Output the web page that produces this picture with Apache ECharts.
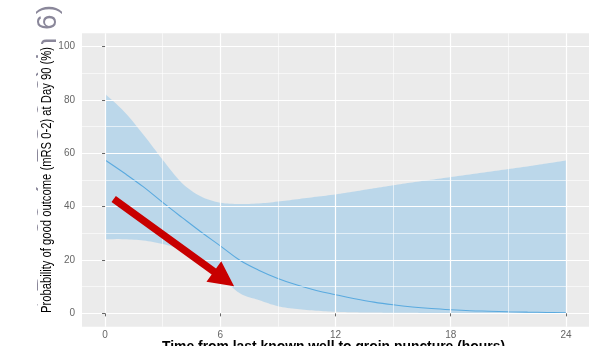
<!DOCTYPE html>
<html>
<head>
<meta charset="utf-8">
<script src="https://cdn.jsdelivr.net/npm/echarts@6/dist/echarts.min.js"></script>
<style>
  html, body { margin: 0; padding: 0; background: #ffffff; }
  #chart { width: 589px; height: 346px; }
</style>
</head>
<body>
<div id="chart"></div>
<script>
// Hours from last known well to groin puncture
const hours = [0, 1, 2, 3, 4, 5, 6, 7, 8, 9, 10, 11, 12, 13, 14, 15, 16, 17, 18, 19, 20, 21, 22, 23, 24];
// Fitted probability of mRS 0-2 at day 90 (%)
const fitted = [57.5, 52.6, 47.4, 41.6, 36.0, 30.5, 25.3, 20.0, 16.2, 13.1, 10.6, 8.6, 7.0, 5.5, 4.2, 3.2, 2.4, 1.8, 1.35, 1.0, 0.8, 0.6, 0.45, 0.35, 0.25];
// 95% confidence band
const ciLower = [27.8, 27.8, 27.3, 26.0, 23.8, 19.6, 13.8, 7.6, 5.0, 2.7, 1.6, 1.0, 0.6, 0.4, 0.3, 0.25, 0.2, 0.15, 0.1, 0.1, 0.1, 0.1, 0.05, 0.05, 0.05];
const ciUpper = [82.3, 75.6, 67.0, 57.6, 48.9, 43.8, 41.5, 41.0, 41.2, 41.9, 42.8, 43.7, 44.6, 45.7, 46.9, 48.0, 49.1, 50.1, 51.1, 52.1, 53.1, 54.1, 55.1, 56.2, 57.3];

const xTicks = [0, 6, 12, 18, 24];
const xMinorTicks = [3, 9, 15, 21];
const yTicks = [0, 20, 40, 60, 80, 100];
const yMinorTicks = [10, 30, 50, 70, 90];

// Annotation arrow (hours, %)
const arrowFrom = [0.45, 42.9];
const arrowTo = [6.72, 10.2];

const yTitle = 'Probability of good outcome (mRS 0-2) at Day 90 (%)';
const xTitle = 'Time from last known well to groin puncture (hours)';
const oldTitle = 'Probability of good outcome at Day 90 (mRS 0-2) in 6)';

const FONT = '"Liberation Sans", Arial, Helvetica, sans-serif';

const chart = echarts.init(document.getElementById('chart'), null, { renderer: 'canvas' });

const pairs = ys => hours.map((h, i) => [h, ys[i]]);
const gridLines = (vals, dim, width) => vals.map(v => ({ [dim]: v, lineStyle: { width } }));

// Catmull-Rom curve through pixel points, flattened into a point list
function curvePoints(pts, steps) {
  const out = [pts[0]];
  const n = pts.length;
  for (let i = 0; i < n - 1; i++) {
    const p0 = pts[Math.max(i - 1, 0)], p1 = pts[i], p2 = pts[i + 1], p3 = pts[Math.min(i + 2, n - 1)];
    const c1 = [p1[0] + (p2[0] - p0[0]) / 6, p1[1] + (p2[1] - p0[1]) / 6];
    const c2 = [p2[0] - (p3[0] - p1[0]) / 6, p2[1] - (p3[1] - p1[1]) / 6];
    for (let s = 1; s <= steps; s++) {
      const t = s / steps, u = 1 - t;
      const a = u * u * u, b = 3 * u * u * t, c = 3 * u * t * t, d = t * t * t;
      out.push([a * p1[0] + b * c1[0] + c * c2[0] + d * p2[0],
                a * p1[1] + b * c1[1] + c * c2[1] + d * p2[1]]);
    }
  }
  return out;
}

function renderBand(params, api) {
  const up = hours.map((h, i) => api.coord([h, ciUpper[i]]));
  const lo = hours.map((h, i) => api.coord([h, ciLower[i]])).reverse();
  const points = curvePoints(up, 8).concat(curvePoints(lo, 8));
  return {
    type: 'polygon',
    shape: { points },
    style: { fill: 'rgba(150, 200, 233, 0.56)', stroke: null }
  };
}

chart.setOption({
  animation: false,
  grid: {
    left: 82, right: 0, top: 33.3, bottom: 19.3,
    show: true, backgroundColor: '#EBEBEB', borderWidth: 0
  },
  xAxis: {
    type: 'value', min: -1.2, max: 25.2, z: 5,
    axisLine: { show: false },
    axisTick: { show: true, customValues: xTicks, length: 3, lineStyle: { color: '#666', width: 1 } },
    axisLabel: { customValues: xTicks, color: '#666', fontSize: 10, fontFamily: FONT, margin: 4 },
    splitLine: { show: false }
  },
  yAxis: {
    type: 'value', min: -5, max: 105, z: 5,
    axisLine: { show: false },
    axisTick: { show: true, customValues: yTicks, length: 3, lineStyle: { color: '#666', width: 1 } },
    axisLabel: { customValues: yTicks, color: '#666', fontSize: 10, fontFamily: FONT, margin: 7 },
    splitLine: { show: false }
  },
  series: [
    {
      // panel grid lines
      type: 'line', data: [], z: 1, silent: true,
      markLine: {
        silent: true, symbol: 'none', label: { show: false }, animation: false,
        lineStyle: { color: '#FFFFFF', type: 'solid' },
        emphasis: { disabled: true },
        data: [
          ...gridLines(xMinorTicks, 'xAxis', 0.6),
          ...gridLines(yMinorTicks, 'yAxis', 0.6),
          ...gridLines(xTicks, 'xAxis', 1.2),
          ...gridLines(yTicks, 'yAxis', 1.2)
        ]
      }
    },
    {
      name: 'ci', type: 'custom', z: 3, silent: true,
      renderItem: renderBand,
      data: [[0, 0]]
    },
    {
      name: 'fit', type: 'line', z: 4,
      data: pairs(fitted), symbol: 'none', smooth: 0.4,
      lineStyle: { color: '#5AAADF', width: 1.1 }, silent: true
    }
  ]
});

// text width helper for fitting titles to their span
const ctx = document.createElement('canvas').getContext('2d');
const textWidth = (txt, font) => { ctx.font = font; return ctx.measureText(txt).width; };

const yFont = '14px ' + FONT;
const xFont = 'bold 15px ' + FONT;
const yScale = 266 / textWidth(yTitle, yFont);
const xScale = 343 / textWidth(xTitle, xFont);

// arrow polygon in pixel space from data coordinates
const p0 = chart.convertToPixel({ gridIndex: 0 }, arrowFrom);
const p1 = chart.convertToPixel({ gridIndex: 0 }, arrowTo);
const dx = p1[0] - p0[0], dy = p1[1] - p0[1];
const len = Math.hypot(dx, dy);
const ux = dx / len, uy = dy / len;
const nx = -uy, ny = ux;
const shaftHalf = 3.7, headLen = 25, headHalf = 12.6;
const bx = p1[0] - ux * headLen, by = p1[1] - uy * headLen;
const arrowPts = [
  [p0[0] + nx * shaftHalf, p0[1] + ny * shaftHalf],
  [bx + nx * shaftHalf, by + ny * shaftHalf],
  [bx + nx * headHalf, by + ny * headHalf],
  [p1[0], p1[1]],
  [bx - nx * headHalf, by - ny * headHalf],
  [bx - nx * shaftHalf, by - ny * shaftHalf],
  [p0[0] - nx * shaftHalf, p0[1] - ny * shaftHalf]
];

chart.setOption({
  graphic: {
    elements: [
      {
        type: 'text', z: 1, silent: true,
        x: 48.5, y: 5, rotation: Math.PI / 2,
        style: { text: oldTitle, x: 0, y: 0, font: '28px ' + FONT, fill: '#8a879a', align: 'right', verticalAlign: 'middle' }
      },
      {
        type: 'rect', z: 2, silent: true,
        shape: { x: 38, y: 44, width: 43.5, height: 302 },
        style: { fill: '#FFFFFF' }
      },
      {
        type: 'text', z: 3, silent: true,
        x: 46.7, y: 180, rotation: Math.PI / 2, scaleX: yScale, scaleY: 1,
        style: { text: yTitle, x: 0, y: 0, font: yFont, fill: '#000000', align: 'center', verticalAlign: 'middle' }
      },
      {
        type: 'text', z: 3, silent: true,
        x: 333.5, y: 347, scaleX: xScale, scaleY: 1,
        style: { text: xTitle, x: 0, y: 0, font: xFont, fill: '#000000', align: 'center', verticalAlign: 'middle' }
      },
      {
        type: 'polygon', z: 100, silent: true,
        shape: { points: arrowPts },
        style: { fill: '#C80000', stroke: null }
      }
    ]
  }
});
</script>
</body>
</html>
